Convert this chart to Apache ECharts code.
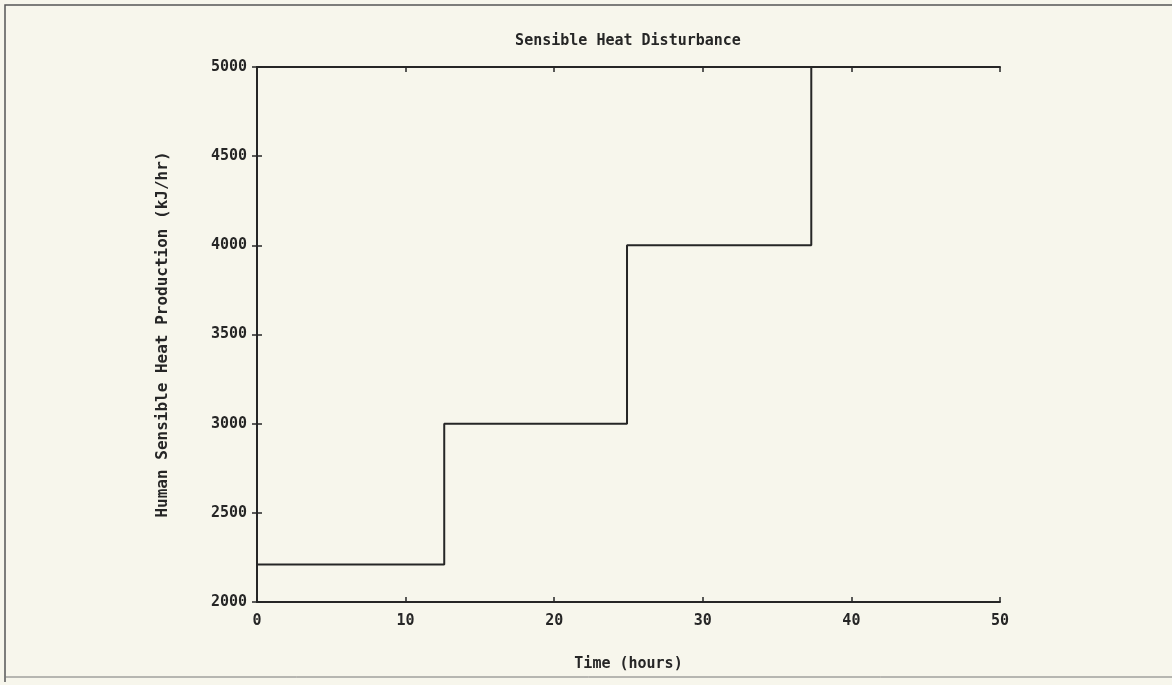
<!DOCTYPE html>
<html>
<head>
<meta charset="utf-8">
<script src="https://cdn.jsdelivr.net/npm/echarts@6/dist/echarts.min.js"></script>
<style>
html,body{margin:0;padding:0;background:#f7f6ec;}
#chart{width:1172px;height:685px;}
</style>
</head>
<body>
<div id="chart"></div>
<script>
// Step times (hours) where the level starts, and the level values (kJ/hr)
var stepTimes = [0, 12.6, 24.9, 37.3];
var stepLevels = [2210, 3000, 4000, 5000];
var endTime = 50;
var xTicks = [0, 10, 20, 30, 40, 50];
var yTicks = [2000, 2500, 3000, 3500, 4000, 4500, 5000];

var titleText = 'Sensible Heat Disturbance';
var xName = 'Time (hours)';
var yName = 'Human Sensible Heat Production (kJ/hr)';

var pts = stepTimes.map(function (t, i) { return [t, stepLevels[i]]; });
pts.push([endTime, stepLevels[stepLevels.length - 1]]);

var ink = '#262626';
var font = 'DejaVu Sans Mono';

var chart = echarts.init(document.getElementById('chart'));
chart.setOption({
  backgroundColor: '#f7f6ec',
  animation: false,
  grid: { left: 257, right: 172, top: 67, bottom: 83, containLabel: false },
  xAxis: [{
    type: 'value', min: xTicks[0], max: xTicks[xTicks.length - 1], interval: 10,
    name: xName, nameLocation: 'middle', nameGap: 55,
    nameTextStyle: { fontFamily: font, fontWeight: 'bold', fontSize: 15, color: ink },
    axisLine: { show: true, lineStyle: { color: ink, width: 2 } },
    axisTick: { show: true, inside: true, length: 5, lineStyle: { color: ink, width: 1.5 } },
    axisLabel: { margin: 12, fontFamily: font, fontWeight: 'bold', fontSize: 15, color: ink,
      formatter: function (v) { return String(v); } },
    splitLine: { show: false }
  }, {
    type: 'value', position: 'top', min: xTicks[0], max: xTicks[xTicks.length - 1], interval: 10,
    axisLine: { show: true, lineStyle: { color: ink, width: 2 } },
    axisTick: { show: true, inside: true, length: 5, lineStyle: { color: ink, width: 1.5 } },
    axisLabel: { show: false }, splitLine: { show: false }
  }],
  yAxis: [{
    type: 'value', min: yTicks[0], max: yTicks[yTicks.length - 1], interval: 500,
    name: yName, nameLocation: 'middle', nameGap: 86,
    nameTextStyle: { fontFamily: font, fontWeight: 'bold', fontSize: 16, color: ink },
    axisLine: { show: true, lineStyle: { color: ink, width: 2 } },
    axisTick: { show: true, inside: true, length: 5, lineStyle: { color: ink, width: 1.5 } },
    axisLabel: { margin: 10, fontFamily: font, fontWeight: 'bold', fontSize: 15, color: ink,
      formatter: function (v) { return String(v); } },
    splitLine: { show: false }
  }, {
    type: 'value', position: 'right', min: yTicks[0], max: yTicks[yTicks.length - 1], interval: 500,
    axisLine: { show: true, lineStyle: { color: ink, width: 2 } },
    axisTick: { show: true, inside: true, length: 5, lineStyle: { color: ink, width: 1.5 } },
    axisLabel: { show: false }, splitLine: { show: false }
  }],
  series: [{
    type: 'line',
    step: 'end',
    data: pts,
    showSymbol: false,
    clip: false,
    lineStyle: { color: ink, width: 2 }
  }],
  graphic: [
    { type: 'text', x: 628, y: 41, style: { text: titleText, align: 'center', verticalAlign: 'middle',
        font: 'bold 15px "DejaVu Sans Mono"', fill: ink } },
    { type: 'polyline', shape: { points: [[5, 682], [5, 5], [1172, 5]] }, style: { fill: null, stroke: '#555', lineWidth: 1.5 } },
    { type: 'line', shape: { x1: 5, y1: 677, x2: 1172, y2: 677 }, style: { stroke: '#777', lineWidth: 1 } }
  ]
});
</script>
</body>
</html>
